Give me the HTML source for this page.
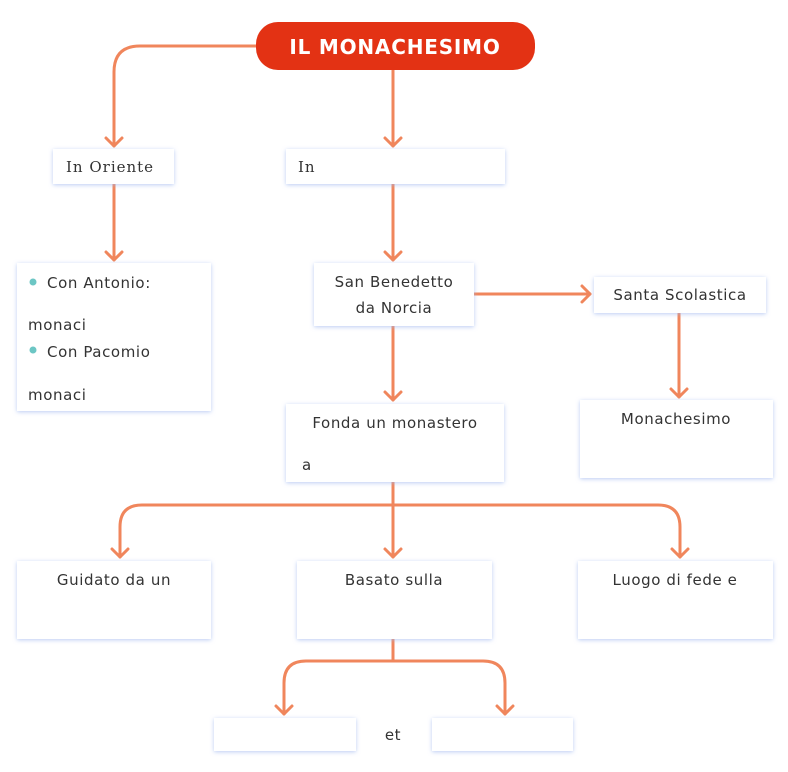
<!DOCTYPE html>
<html><head><meta charset="utf-8"><style>
html,body{margin:0;padding:0;background:#fff;width:788px;height:772px;overflow:hidden}
svg{display:block}
text{font-family:"DejaVu Sans","Liberation Sans",sans-serif;font-size:15px;fill:#333;letter-spacing:0.6px}
</style></head><body>
<svg width="788" height="772" viewBox="0 0 788 772" xmlns="http://www.w3.org/2000/svg">
<defs>
<filter id="sh" x="-10%" y="-20%" width="120%" height="140%">
<feDropShadow dx="0" dy="1" stdDeviation="2" flood-color="#9fb6f0" flood-opacity="0.7"/>
</filter>
</defs>
<g fill="none" stroke="#f0865c" stroke-width="3" stroke-linecap="round" stroke-linejoin="round">
<path d="M256 46 H140 Q114 46 114 72 V146"/>
<path d="M106 138 L114 146 L122 138"/>
<path d="M393 70 V146"/><path d="M385 138 L393 146 L401 138"/>
<path d="M114 184 V260"/><path d="M106 252 L114 260 L122 252"/>
<path d="M393 184 V260"/><path d="M385 252 L393 260 L401 252"/>
<path d="M474 294 H590"/><path d="M582 286 L590 294 L582 302"/>
<path d="M679 313 V397"/><path d="M671 389 L679 397 L687 389"/>
<path d="M393 326 V400"/><path d="M385 392 L393 400 L401 392"/>
<path d="M393 482 V557"/><path d="M385 549 L393 557 L401 549"/>
<path d="M120 557 V527 Q120 505 142 505 H658 Q680 505 680 527 V557"/>
<path d="M112 549 L120 557 L128 549"/><path d="M672 549 L680 557 L688 549"/>
<path d="M393 639 V661"/>
<path d="M284 714 V683 Q284 661 306 661 H483 Q505 661 505 683 V714"/>
<path d="M276 706 L284 714 L292 706"/><path d="M497 706 L505 714 L513 706"/>
</g>
<rect x="256" y="22" width="279" height="48" rx="22" fill="#e33214"/>
<text x="395" y="54" text-anchor="middle" style="fill:#fff;font-size:20px;font-weight:600;letter-spacing:0.8px">IL MONACHESIMO</text>
<g fill="#fff" filter="url(#sh)">
<rect x="53" y="149" width="121" height="35"/>
<rect x="286" y="149" width="219" height="35"/>
<rect x="17" y="263" width="194" height="148"/>
<rect x="314" y="263" width="160" height="63"/>
<rect x="594" y="277" width="172" height="36"/>
<rect x="580" y="400" width="193" height="78"/>
<rect x="286" y="404" width="218" height="78"/>
<rect x="17" y="561" width="194" height="78"/>
<rect x="297" y="561" width="195" height="78"/>
<rect x="578" y="561" width="195" height="78"/>
<rect x="214" y="718" width="142" height="33"/>
<rect x="432" y="718" width="141" height="33"/>
</g>
<text x="66" y="172" style="font-family:'DejaVu Serif','Liberation Serif',serif;font-size:15px;letter-spacing:1px">In Oriente</text>
<text x="298" y="172" style="font-family:'DejaVu Serif','Liberation Serif',serif;font-size:15px;letter-spacing:1px">In</text>
<circle cx="33" cy="282" r="3.5" fill="#6cc6c4"/>
<text x="47" y="288">Con Antonio:</text>
<text x="28" y="330">monaci</text>
<circle cx="33" cy="350" r="3.5" fill="#6cc6c4"/>
<text x="47" y="357">Con Pacomio</text>
<text x="28" y="400">monaci</text>
<text x="394" y="287" text-anchor="middle">San Benedetto</text>
<text x="394" y="313" text-anchor="middle">da Norcia</text>
<text x="680" y="300" text-anchor="middle">Santa Scolastica</text>
<text x="676" y="424" text-anchor="middle">Monachesimo</text>
<text x="395" y="428" text-anchor="middle">Fonda un monastero</text>
<text x="302" y="470">a</text>
<text x="114" y="585" text-anchor="middle">Guidato da un</text>
<text x="394" y="585" text-anchor="middle">Basato sulla</text>
<text x="675" y="585" text-anchor="middle">Luogo di fede e</text>
<text x="393" y="740" text-anchor="middle">et</text>
</svg>
</body></html>
